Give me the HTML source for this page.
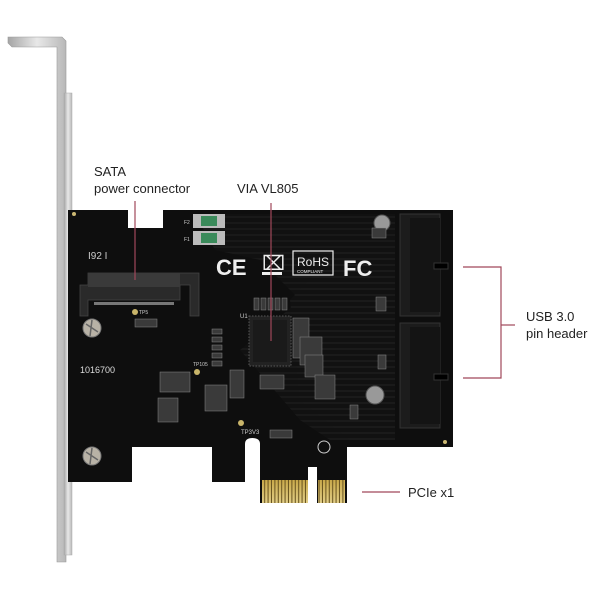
<!DOCTYPE html>
<html><head><meta charset="utf-8"><style>
html,body{margin:0;padding:0;background:#fff;}
svg{display:block;}
text{font-family:"Liberation Sans",sans-serif;}
</style></head><body>
<svg width="600" height="600" viewBox="0 0 600 600" xmlns="http://www.w3.org/2000/svg">
<defs>
<linearGradient id="br" x1="0" x2="1"><stop offset="0" stop-color="#a5a5a5"/><stop offset=".5" stop-color="#e8e8e8"/><stop offset="1" stop-color="#b8b8b8"/></linearGradient>
<linearGradient id="gold" x1="0" y1="0" x2="0" y2="1"><stop offset="0" stop-color="#c9a94a"/><stop offset="1" stop-color="#e9d99a"/></linearGradient>
<pattern id="fing" width="3.4" height="30" patternUnits="userSpaceOnUse"><rect width="2.4" height="30" fill="url(#gold)"/><rect x="2.4" width="1" height="30" fill="#6a5520"/></pattern>
<pattern id="str" width="6" height="6" patternUnits="userSpaceOnUse"><rect width="6" height="6" fill="#111"/><rect width="6" height="2" fill="#1a1a1a"/></pattern>
</defs>
<path d="M8,37 L62,37 L66,41 L66,562 L57,562 L57,47 L12,47 L8,43 Z" fill="url(#br)" stroke="#999" stroke-width="0.6"/>
<rect x="64" y="93" width="8" height="462" fill="url(#br)" stroke="#aaa" stroke-width="0.5"/>
<path d="M68,210 L128,210 L128,228 L163,228 L163,210 L453,210 L453,447 L347,447 L347,503 L317,503 L317,467 L308,467 L308,503 L260,503 L260,444 Q260,438 252.5,438 Q245,438 245,444 L245,482 L212,482 L212,447 L132,447 L132,482 L68,482 Z" fill="#0e0e0e"/>
<path d="M195,214 L395,214 L395,440 L330,440 L300,420 L240,350 L300,300 L260,260 L215,250 Z" fill="url(#str)" opacity="0.9"/>
<path d="M290,300 L340,250 L395,250 L395,440 L350,440 L300,400 Z" fill="url(#str)"/>
<rect x="262" y="480" width="46" height="23" fill="url(#fing)"/>
<rect x="318" y="480" width="27" height="23" fill="url(#fing)"/>
<circle cx="92" cy="328" r="9" fill="#b8b2a6" stroke="#777" stroke-width="1"/>
<path d="M86,324 L98,332 M92,320 L90,336" stroke="#666" stroke-width="1.5"/>
<circle cx="92" cy="456" r="9" fill="#b8b2a6" stroke="#777" stroke-width="1"/>
<path d="M86,452 L98,460 M92,448 L90,464" stroke="#666" stroke-width="1.5"/>
<circle cx="74" cy="214" r="2" fill="#cbb873"/>
<circle cx="445" cy="442" r="2" fill="#cbb873"/>
<path d="M80,285 L88,285 L88,273 L199,273 L199,316 L190,316 L190,285 L180,285 L180,300 L88,300 L88,316 L80,316 Z" fill="#2a2a2a" stroke="#444" stroke-width="0.8"/>
<rect x="88" y="273" width="92" height="14" fill="#3a3a3a"/>
<rect x="94" y="302" width="80" height="3" fill="#777"/>
<text x="88" y="259" font-size="10" fill="#ccc" font-family="Liberation Mono,monospace">I92 I</text>
<text x="80" y="373" font-size="9" fill="#ddd">1016700</text>
<rect x="193" y="214" width="32" height="14" fill="#bbb"/><rect x="201" y="216" width="16" height="10" fill="#3a8a5a"/>
<rect x="193" y="231" width="32" height="14" fill="#bbb"/><rect x="201" y="233" width="16" height="10" fill="#3a8a5a"/>
<text x="184" y="224" font-size="5" fill="#ccc">F2</text><text x="184" y="241" font-size="5" fill="#ccc">F1</text>
<text x="216" y="275" font-size="22" font-weight="bold" fill="#eee">CE</text>
<text x="262" y="270" font-size="20" fill="#eee">⌧</text>
<rect x="262" y="272" width="20" height="3" fill="#eee"/>
<rect x="293" y="251" width="40" height="24" fill="none" stroke="#eee" stroke-width="1.2"/>
<text x="297" y="266" font-size="12" fill="#eee">RoHS</text>
<text x="297" y="273" font-size="4.5" fill="#eee">COMPLIANT</text>
<text x="343" y="276" font-size="22" font-weight="bold" fill="#eee">FC</text>
<circle cx="382" cy="223" r="8" fill="#999" stroke="#555"/>
<circle cx="375" cy="395" r="9" fill="#999" stroke="#555"/>
<rect x="400" y="214" width="40" height="102" fill="#1c1c1c" stroke="#333"/>
<rect x="400" y="323" width="40" height="105" fill="#1c1c1c" stroke="#333"/>
<rect x="410" y="218" width="30" height="94" fill="#141414"/>
<rect x="410" y="327" width="30" height="97" fill="#141414"/>
<rect x="434" y="263" width="14" height="6" fill="#000" stroke="#333"/>
<rect x="434" y="374" width="14" height="6" fill="#000" stroke="#333"/>
<rect x="249" y="316" width="42" height="50" fill="#222" stroke="#555" stroke-dasharray="1.5,1.5"/>
<rect x="253" y="320" width="34" height="42" fill="#1a1a1a"/>
<text x="240" y="318" font-size="6" fill="#ccc">U1</text>
<g fill="#3a3a3a" stroke="#888" stroke-width="0.5">
<rect x="212" y="329" width="10" height="5"/><rect x="212" y="337" width="10" height="5"/><rect x="212" y="345" width="10" height="5"/><rect x="212" y="353" width="10" height="5"/><rect x="212" y="361" width="10" height="5"/>
<rect x="254" y="298" width="5" height="12"/><rect x="261" y="298" width="5" height="12"/><rect x="268" y="298" width="5" height="12"/><rect x="275" y="298" width="5" height="12"/><rect x="282" y="298" width="5" height="12"/>
<rect x="160" y="372" width="30" height="20"/><rect x="158" y="398" width="20" height="24"/>
<rect x="205" y="385" width="22" height="26"/><rect x="230" y="370" width="14" height="28"/>
<rect x="293" y="318" width="16" height="40"/><rect x="300" y="337" width="22" height="28"/>
<rect x="305" y="355" width="18" height="22"/><rect x="315" y="375" width="20" height="24"/>
<rect x="260" y="375" width="24" height="14"/><rect x="270" y="430" width="22" height="8"/>
<rect x="135" y="319" width="22" height="8"/><rect x="350" y="405" width="8" height="14"/><rect x="378" y="355" width="8" height="14"/>
<rect x="376" y="297" width="10" height="14"/><rect x="372" y="228" width="14" height="10"/>
</g>
<circle cx="135" cy="312" r="3" fill="#c9b56a"/><circle cx="197" cy="372" r="3" fill="#c9b56a"/><circle cx="241" cy="423" r="3" fill="#c9b56a"/>
<text x="241" y="434" font-size="6" fill="#ccc">TP3V3</text>
<text x="193" y="366" font-size="5" fill="#ccc">TP105</text>
<text x="139" y="314" font-size="5" fill="#ccc">TP5</text>
<circle cx="324" cy="447" r="6" fill="none" stroke="#ccc" stroke-width="1"/>
<g stroke="#a0485a" stroke-width="1.2" fill="none">
<line x1="135" y1="201" x2="135" y2="280"/>
<line x1="271" y1="203" x2="271" y2="341"/>
<polyline points="463,267 501,267 501,378 463,378"/>
<line x1="501" y1="325" x2="515" y2="325"/>
<line x1="362" y1="492" x2="400" y2="492"/>
</g>
<g font-size="13" fill="#222">
<text x="94" y="176">SATA</text>
<text x="94" y="193">power connector</text>
<text x="237" y="193">VIA VL805</text>
<text x="526" y="321">USB 3.0</text>
<text x="526" y="338">pin header</text>
<text x="408" y="497">PCIe x1</text>
</g>
</svg>
</body></html>
